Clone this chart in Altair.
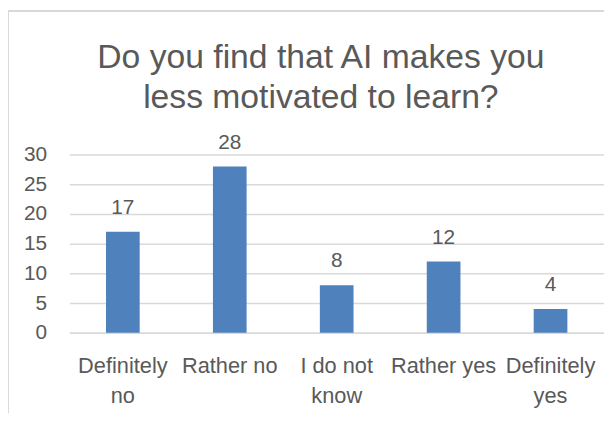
import altair as alt
import pandas as pd

categories = ["Definitely no", "Rather no", "I do not know", "Rather yes", "Definitely yes"]
counts = [17, 28, 8, 12, 4]
y_ticks = [0, 5, 10, 15, 20, 25, 30]
title_lines = ["Do you find that AI makes you", "less motivated to learn?"]

df = pd.DataFrame({"category": categories, "count": counts})

FONT = "Liberation Sans"
TXT = "#595959"
GRID = "#d9d9d9"

label_expr = (
    "datum.label == 'Definitely no' ? ['Definitely', 'no'] : "
    "datum.label == 'I do not know' ? ['I do not', 'know'] : "
    "datum.label == 'Definitely yes' ? ['Definitely', 'yes'] : datum.label"
)

base = alt.Chart(df).encode(
    x=alt.X(
        "category:N",
        sort=categories,
        scale=alt.Scale(paddingInner=0.685, paddingOuter=0.3425),
        axis=alt.Axis(
            title=None, labelAngle=0, labelExpr=label_expr, labelFontSize=22,
            labelFont=FONT, labelColor=TXT, labelLineHeight=30, labelPadding=23,
            ticks=False, tickSize=0, domainColor=GRID, domainWidth=1.5, grid=False,
            labelLimit=200,
        ),
    ),
    y=alt.Y(
        "count:Q",
        scale=alt.Scale(domain=[0, 30], nice=False),
        axis=alt.Axis(
            title=None, values=y_ticks, labelFontSize=21, labelFont=FONT,
            labelColor=TXT, labelPadding=23, ticks=False, tickSize=0, domain=False,
            gridColor=GRID, gridWidth=1.5,
        ),
    ),
)

bars = base.mark_bar(color="#4f81bd")
labels = base.mark_text(
    font=FONT, fontSize=21, color=TXT, baseline="alphabetic", dy=-18
).encode(text="count:Q")

single = alt.Data(values=[{"k": 0}])
top_line = alt.Chart(single).mark_rule(color=GRID, strokeWidth=2).encode(
    x=alt.value(-62), x2=alt.value(540), y=alt.value(-145)
)
left_line = alt.Chart(single).mark_rule(color=GRID, strokeWidth=2).encode(
    x=alt.value(-62), y=alt.value(-146), y2=alt.value(267)
)
title = alt.Chart(single).mark_text(
    text=title_lines, font=FONT, fontSize=34, color=TXT, lineHeight=40,
    align="center", baseline="alphabetic",
).encode(x=alt.value(254), y=alt.value(-87))

chart = (
    alt.layer(top_line, left_line, title, bars, labels)
    .properties(
        width=540,
        height=180,
        autosize=alt.AutoSizeParams(type="none"),
        padding={"left": 62, "top": 146, "right": 0, "bottom": 79},
    )
    .configure_view(stroke=None)
)

chart.save("out.html", embed_options={"renderer": "svg", "actions": False})
